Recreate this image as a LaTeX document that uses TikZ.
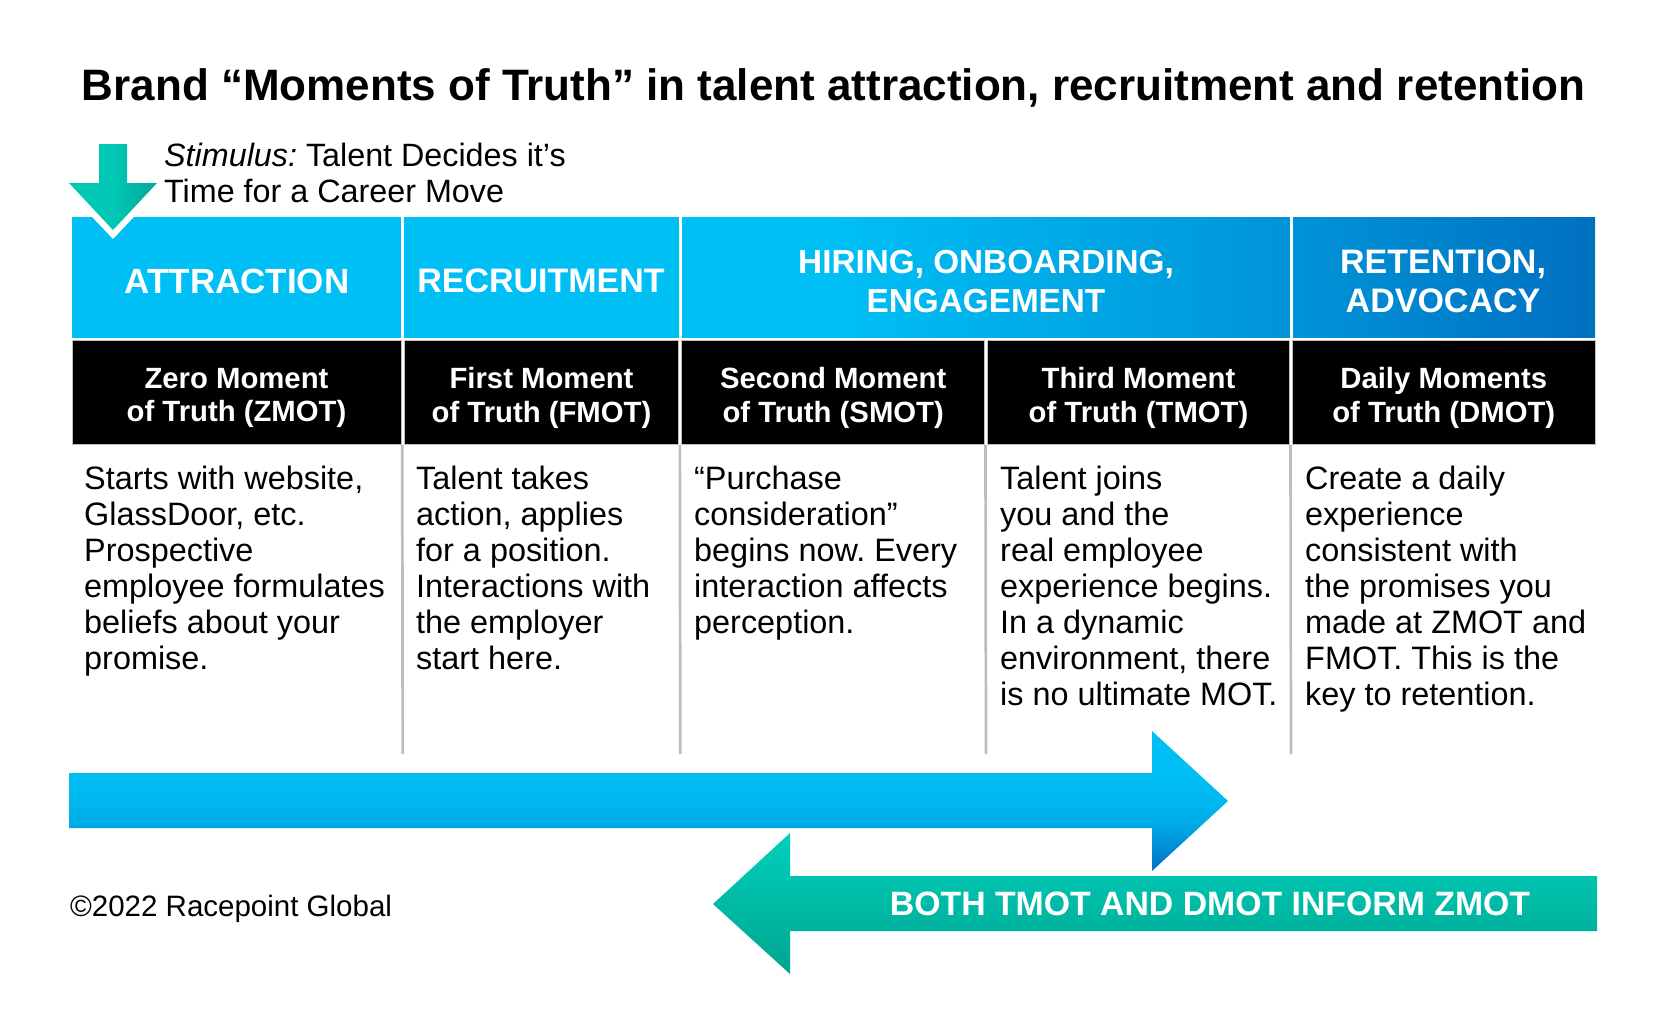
\documentclass[tikz,border=0pt]{standalone}
\usepackage{fontspec}
\setmainfont{Liberation Sans}
\definecolor{cyanA}{HTML}{00BFF5}
\definecolor{blueB}{HTML}{0070C0}
\definecolor{tealA}{HTML}{00D0BC}
\definecolor{tealB}{HTML}{00A590}
\definecolor{tealS}{HTML}{00C8B4}
\definecolor{tealC}{HTML}{00A896}
\definecolor{divgray}{HTML}{BDBDBD}
\pgfdeclarehorizontalshading{bandshade}{100bp}{color(0bp)=(cyanA); color(50bp)=(cyanA); color(65bp)=(cyanA!45!blueB); color(75bp)=(blueB); color(100bp)=(blueB)}
\pgfdeclareverticalshading{bigblue}{100bp}{color(0bp)=(blueB); color(25bp)=(blueB); color(42bp)=(cyanA!75!blueB); color(50bp)=(cyanA!90!blueB); color(62bp)=(cyanA); color(100bp)=(cyanA)}
\pgfdeclarehorizontalshading{stimteal}{100bp}{color(0bp)=(tealS); color(50bp)=(tealS); color(75bp)=(tealC); color(100bp)=(tealC)}
\tikzset{
  band/.style={text=white,font=\fontsize{34}{39}\selectfont\bfseries,align=center,inner sep=0pt},
  blackcell/.style={fill=black,draw=divgray,line width=1pt,inner sep=0pt,minimum height=104pt},
  blacktext/.style={text=white,font=\fontsize{29.3}{33.5}\selectfont\bfseries,align=center,inner sep=0pt},
  body/.style={anchor=north west,align=left,font=\fontsize{32.4}{36}\selectfont,inner sep=0pt},
  divider/.style={divgray,line width=2.7pt},
  gap/.style={white,line width=3pt}
}
\begin{document}
\frenchspacing
\begin{tikzpicture}[x=1pt,y=-1pt]
\useasboundingbox (0,0) rectangle (1667,1028);
\node[anchor=center,font=\fontsize{44}{50}\selectfont\bfseries,inner sep=0pt] (title) at (833.5,87.5) {Brand “Moments of Truth” in talent attraction, recruitment and retention};
% header band
\shade[shading=bandshade] (72,217) rectangle (1595,337.5);
\coordinate (g1t) at (402.7,217); \coordinate (g1b) at (402.7,337.5);
\coordinate (g2t) at (680.3,217); \coordinate (g2b) at (680.3,337.5);
\coordinate (g3t) at (1291,217); \coordinate (g3b) at (1291,337.5);
\draw[gap] (g1t) -- (g1b);
\draw[gap] (g2t) -- (g2b);
\draw[gap] (g3t) -- (g3b);
\node[band,font=\fontsize{35}{39}\selectfont\bfseries] (attr) at (237,281) {ATTRACTION};
\node[band] (recr) at (541,281) {RECRUITMENT};
\node[band,font=\fontsize{33.3}{39}\selectfont\bfseries] (hire) at (986,281.5) {HIRING, ONBOARDING,\\ENGAGEMENT};
\node[band] (reten) at (1443,281.5) {RETENTION,\\ADVOCACY};
% black row
\node[blackcell,minimum width=329pt] (zmot) at (236.5,392.3) {};
\node[blackcell,minimum width=274.6pt] (fmot) at (541.5,392.3) {};
\node[blackcell,minimum width=302.7pt] (smot) at (833.2,392.3) {};
\node[blackcell,minimum width=302pt] (tmot) at (1138.5,392.3) {};
\node[blackcell,minimum width=302.5pt] (dmot) at (1443.75,392.3) {};
\node[blacktext] (zmott) at (236.5,398) {Zero Moment\\of Truth (ZMOT)};
\node[blacktext] (fmott) at (541.5,398) {First Moment\\of Truth (FMOT)};
\node[blacktext] (smott) at (833.2,398) {Second Moment\\of Truth (SMOT)};
\node[blacktext] (tmott) at (1138.5,398) {Third Moment\\of Truth (TMOT)};
\node[blacktext] (dmott) at (1443.75,398) {Daily Moments\\of Truth (DMOT)};
% dividers
\coordinate (d1) at (402.7,754); \coordinate (d2) at (680.3,754); \coordinate (d3) at (986,754); \coordinate (d4) at (1291,754);
\draw[divider] (fmot.south west) ++(-1.5,0) -- (d1);
\draw[divider] (smot.south west) ++(-1.5,0) -- (d2);
\draw[divider] (tmot.south west) ++(-1.5,0) -- (d3);
\draw[divider] (dmot.south west) ++(-1.5,0) -- (d4);
% body text
\node[body] (bz) at (84,465.5) {Starts with website,\\GlassDoor, etc.\\Prospective\\employee formulates\\beliefs about your\\promise.};
\node[body] (bf) at (416,465.5) {Talent takes\\action, applies\\for a position.\\Interactions with\\the employer\\start here.};
\node[body] (bs) at (694,465.5) {“Purchase\\consideration”\\begins now. Every\\interaction affects\\perception.};
\node[body] (bt) at (1000,465.5) {Talent joins\\you and the\\real employee\\experience begins.\\In a dynamic\\environment, there\\is no ultimate MOT.};
\node[body] (bd) at (1305,465.5) {Create a daily\\experience\\consistent with\\the promises you\\made at ZMOT and\\FMOT. This is the\\key to retention.};
% stimulus arrow
\fill[white] (60,183) -- (113,239) -- (166,183) -- cycle;
\shade[shading=stimteal] (99,144) -- (127,144) -- (127,183) -- (157,183) -- (113,230) -- (69,183) -- (99,183) -- cycle;
\node[anchor=north west,align=left,font=\fontsize{32.3}{36}\selectfont,inner sep=0pt] (stim) at (164,143) {\textit{Stimulus:} Talent Decides it’s\\Time for a Career Move};
% big blue arrow
\shade[shading=bigblue] (69,773) -- (1152,773) -- (1152,731) -- (1228,801) -- (1152,871) -- (1152,828) -- (69,828) -- cycle;
% big teal arrow
\shade[top color=tealA,bottom color=tealB] (1597,876) -- (790,876) -- (790,833) -- (713,904) -- (790,974) -- (790,931) -- (1597,931) -- cycle;
\node[text=white,font=\fontsize{33.8}{40}\selectfont\bfseries,inner sep=0pt] (inform) at (1210,904) {BOTH TMOT AND DMOT INFORM ZMOT};
\node[anchor=west,font=\fontsize{29.5}{33}\selectfont,inner sep=0pt] (copy) at (70,908.5) {©2022 Racepoint Global};
\end{tikzpicture}
\end{document}
